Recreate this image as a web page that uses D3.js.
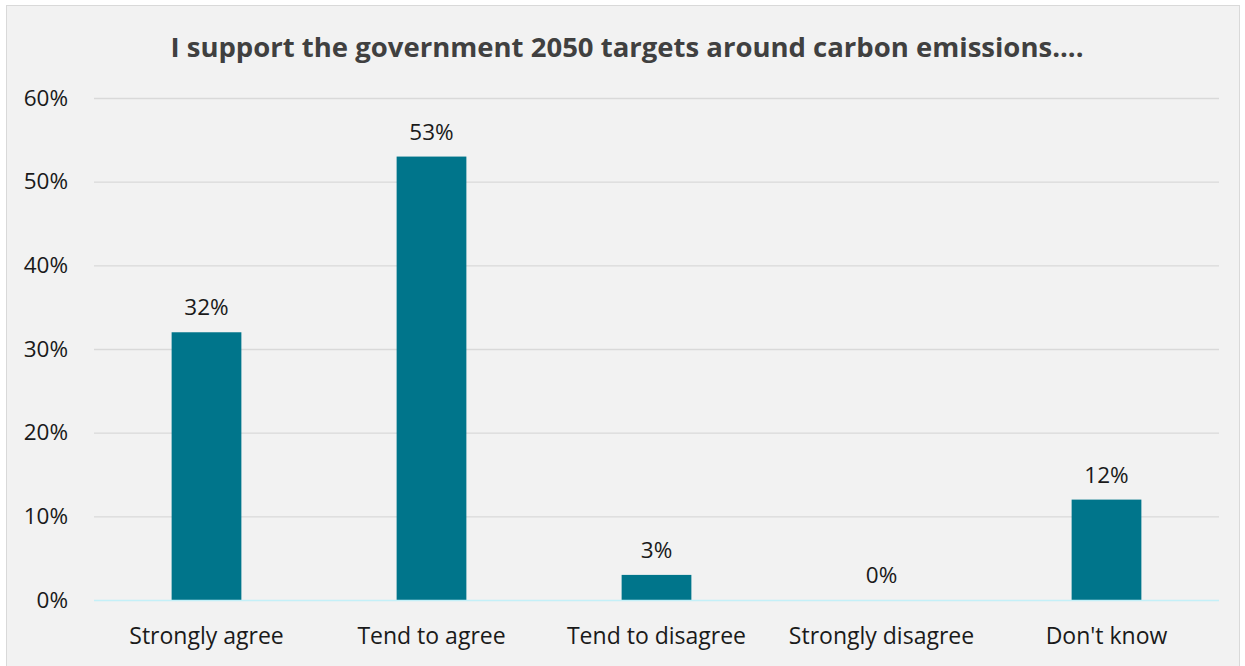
<!DOCTYPE html>
<html>
<head>
<meta charset="utf-8">
<script src="https://cdn.jsdelivr.net/npm/d3@7"></script>
<style>
  html, body { margin: 0; padding: 0; background: #ffffff; }
  svg { display: block; font-family: "Open Sans", "Noto Sans", sans-serif; }
</style>
</head>
<body>
<svg id="chart" width="1245" height="666"></svg>
<script>
// Survey responses
const categories = ["Strongly agree", "Tend to agree", "Tend to disagree", "Strongly disagree", "Don't know"];
const values = [32, 53, 3, 0, 12];
const yTicks = [0, 10, 20, 30, 40, 50, 60];
const title = "I support the government 2050 targets around carbon emissions....";

const svg = d3.select("#chart");

// chart frame
svg.append("rect")
  .attr("x", 6.5).attr("y", 5.5)
  .attr("width", 1233).attr("height", 670)
  .attr("fill", "#f2f2f2")
  .attr("stroke", "#d9d9d9").attr("stroke-width", 1);

const plot = { left: 94, right: 1219, top: 98, bottom: 600 };

const x = d3.scaleBand()
  .domain(categories)
  .range([plot.left, plot.right])
  .paddingInner(0.69).paddingOuter(0.345);

const y = d3.scaleLinear()
  .domain([0, 60])
  .range([plot.bottom, plot.top]);

// title
svg.append("text")
  .attr("x", 627).attr("y", 57)
  .attr("text-anchor", "middle")
  .attr("font-size", 27.5).attr("font-weight", 700)
  .attr("fill", "#404040")
  .text(title);

// gridlines
svg.append("g")
  .selectAll("line")
  .data(yTicks.filter(d => d > 0))
  .join("line")
  .attr("x1", plot.left).attr("x2", plot.right)
  .attr("y1", d => y(d) + 0.5).attr("y2", d => y(d) + 0.5)
  .attr("stroke", "#d9d9d9").attr("stroke-width", 1.3);

// y axis labels
const yAxis = d3.axisLeft(y).tickValues(yTicks).tickFormat(d => d + "%").tickSize(0).tickPadding(0);
const yg = svg.append("g").attr("transform", `translate(${plot.left - 26},0)`).call(yAxis);
yg.select(".domain").remove();
yg.selectAll("text")
  .attr("font-size", 22.5).attr("fill", "#1a1a1a")
  .attr("font-family", "'Open Sans', 'Noto Sans', sans-serif");

// bars
svg.append("g")
  .selectAll("rect")
  .data(values)
  .join("rect")
  .attr("x", (d, i) => x(categories[i]))
  .attr("y", d => y(d))
  .attr("width", x.bandwidth())
  .attr("height", d => y(0) - y(d))
  .attr("fill", "#00758b");

// baseline
svg.append("line")
  .attr("x1", plot.left).attr("x2", plot.right)
  .attr("y1", y(0) + 0.5).attr("y2", y(0) + 0.5)
  .attr("stroke", "#c4f0f8").attr("stroke-width", 1.5);

// value labels
svg.append("g")
  .selectAll("text")
  .data(values)
  .join("text")
  .attr("x", (d, i) => x(categories[i]) + x.bandwidth() / 2)
  .attr("y", d => y(d) - 17)
  .attr("text-anchor", "middle")
  .attr("font-size", 22.5).attr("fill", "#1a1a1a")
  .text(d => d + "%");

// category labels
const xAxis = d3.axisBottom(x).tickSize(0).tickPadding(0);
const xg = svg.append("g").attr("transform", `translate(0,${plot.bottom + 44})`).call(xAxis);
xg.select(".domain").remove();
xg.selectAll("text")
  .attr("dy", 0)
  .attr("font-size", 23).attr("fill", "#1a1a1a")
  .attr("font-family", "'Open Sans', 'Noto Sans', sans-serif");
</script>
</body>
</html>
